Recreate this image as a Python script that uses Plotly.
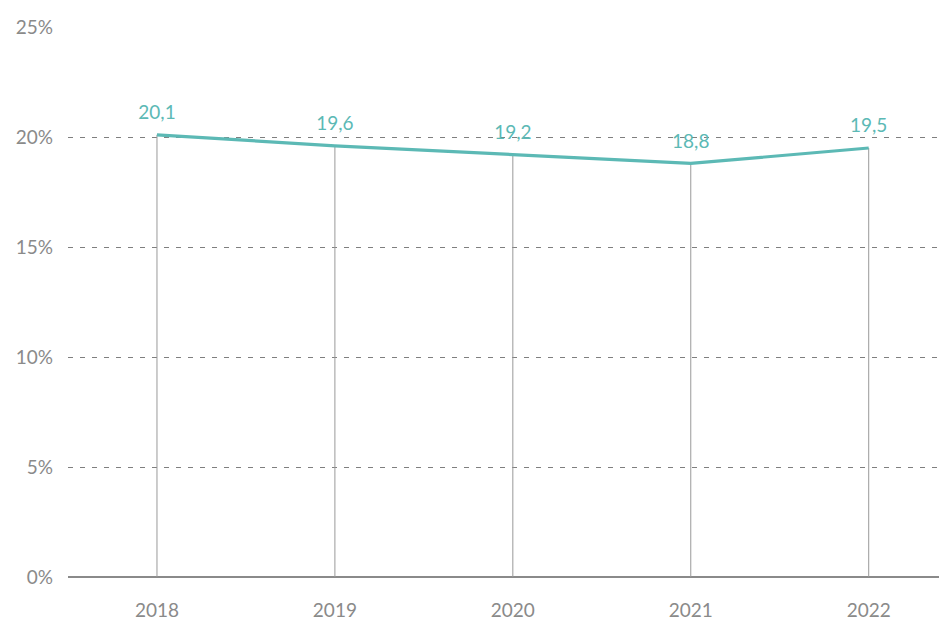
import plotly.graph_objects as go

years = ["2018", "2019", "2020", "2021", "2022"]
values = [20.1, 19.6, 19.2, 18.8, 19.5]
labels = ["20,1", "19,6", "19,2", "18,8", "19,5"]
ytick_vals = [0, 5, 10, 15, 20, 25]
ytick_text = ["0%", "5%", "10%", "15%", "20%", "25%"]

teal = "#5cb9b5"
gray = "#8a8a8a"

# drop lines built from the data
dx, dy = [], []
for yr, v in zip(years, values):
    dx += [yr, yr, None]
    dy += [0, v, None]

fig = go.Figure()
fig.add_trace(go.Scatter(x=dx, y=dy, mode="lines",
                         line=dict(color="#999999", width=1),
                         hoverinfo="skip", showlegend=False))
fig.add_trace(go.Scatter(x=years, y=values, mode="lines+markers+text",
                         text=labels, textposition="top center",
                         textfont=dict(color=teal, size=19, family="Lato"),
                         marker=dict(size=16, opacity=0, color=teal),
                         line=dict(color=teal, width=3.2),
                         showlegend=False, cliponaxis=False))

fig.update_layout(
    width=947, height=621,
    margin=dict(l=60, r=8, t=19, b=52, autoexpand=False),
    paper_bgcolor="white", plot_bgcolor="white",
    font=dict(family="Lato", color=gray, size=19),
    separators=", ",
    xaxis=dict(type="category", range=[-0.5, 4.44], showgrid=False,
               showline=False, zeroline=False, ticks="", automargin=False,
               tickfont=dict(size=19, color=gray), ticklabelstandoff=20),
    yaxis=dict(range=[0, 25], tickmode="array", tickvals=ytick_vals,
               ticktext=ytick_text, automargin=False,
               showgrid=True, gridcolor="#7f7f7f",
               griddash="5px,7px", gridwidth=1, zeroline=True,
               zerolinecolor="#8a8a8a", zerolinewidth=2,
               showline=False, ticks="", tickfont=dict(size=19, color=gray),
               ticklabelstandoff=14),
)

fig.write_html("out.html")
